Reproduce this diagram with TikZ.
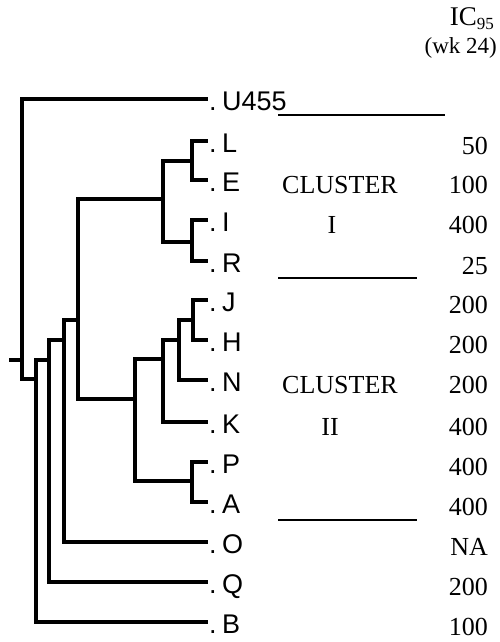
\documentclass[tikz,border=0pt]{standalone}
\usepackage{fontspec}
\setmainfont{Liberation Serif}
\newfontfamily\leaffont{Liberation Sans}
\begin{document}
\begin{tikzpicture}[x=1pt,y=-1pt,
  br/.style={line width=3.2pt, line join=miter},
  thk/.style={line width=4.3pt, line join=miter},
  rule/.style={line width=1.6pt},
  leaf/.style={inner sep=0pt, anchor=base west, font=\leaffont\fontsize{27}{30}\selectfont},
  val/.style={inner sep=0pt, anchor=base east, font=\fontsize{26}{30}\selectfont},
  lab/.style={inner sep=0pt, anchor=base, font=\fontsize{26}{30}\selectfont}]
\useasboundingbox (0,0) rectangle (499,642);

% leaf ends
\foreach \n/\y in {U455/99,L/141,E/180,I/220,R/261,J/300,H/340,N/380,K/422,P/462,A/502,O/542,Q/582,B/622}
  \coordinate (\n) at (208,\y);

% internal junctions
\coordinate (nLE)   at (192,161);
\coordinate (nIR)   at (192,242);
\coordinate (nC1)   at (163,199);
\coordinate (nJH)   at (193,320);
\coordinate (nJHN)  at (179,340);
\coordinate (nJHNK) at (163,359);
\coordinate (nPA)   at (192,481);
\coordinate (nC2)   at (135,399);
\coordinate (nC12)  at (78,320);
\coordinate (nO)    at (64,340);
\coordinate (nQ)    at (49,360);
\coordinate (nB)    at (36,379);
\coordinate (root)  at (22,360);
\coordinate (stub)  at (9,360);

% tree
\draw[br] (stub) -- (root);
\draw[br] (root) |- (U455);
\draw[br] (root) |- (nB);
\draw[br] (nB) |- (nQ);
\draw[br] (nB) |- (B);
\draw[br] (nQ) |- (nO);
\draw[br] (nQ) |- (Q);
\draw[br] (nO) |- (nC12);
\draw[br] (nO) |- (O);
\draw[br] (nC12) |- (nC1);
\draw[br] (nC12) |- (nC2);
\draw[br] (nC1) |- (nLE);
\draw[br] (nC1) |- (nIR);
\draw[thk] (nLE) |- (L);
\draw[thk] (nLE) |- (E);
\draw[thk] (nIR) |- (I);
\draw[thk] (nIR) |- (R);
\draw[br] (nC2) |- (nJHNK);
\draw[br] (nC2) |- (nPA);
\draw[br] (nJHNK) |- (nJHN);
\draw[br] (nJHNK) |- (K);
\draw[br] (nJHN) |- (nJH);
\draw[br] (nJHN) |- (N);
\draw[thk] (nJH) |- (J);
\draw[br] (nJH) |- (H);
\draw[thk] (nPA) |- (P);
\draw[br] (nPA) |- (A);

% leaf labels
\foreach \n in {U455,L,E,I,R,J,H,N,K,P,A,O,Q,B}
  \node[leaf] (t\n) at ([xshift=1pt,yshift=-11pt]\n) {.\hspace{5.5pt}\n};

% values
\foreach \n/\v in {L/50,E/100,I/400,R/25,J/200,H/200,N/200,K/400,P/400,A/400,O/NA,Q/200,B/100}
  \node[val] (v\n) at ([xshift=280pt,yshift=-13pt]\n) {\v};

% header
\node[inner sep=0pt, anchor=base east, font=\fontsize{27}{30}\selectfont] (hdr1) at (494,26)
  {IC\raisebox{-4pt}{\fontsize{17}{17}\selectfont 95}};
\node[inner sep=0pt, anchor=base east, font=\fontsize{23}{28}\selectfont] (hdr2) at (497,53) {(wk 24)};

% cluster labels
\node[lab, anchor=base west] (c1a) at (282,193) {CLUSTER};
\node[lab] (c1b) at (332,233) {I};
\node[lab, anchor=base west] (c2a) at (282,393) {CLUSTER};
\node[lab] (c2b) at (330,435) {II};

% rules
\coordinate (r1a) at (278,115); \coordinate (r1b) at (445,115);
\coordinate (r2a) at (278,278); \coordinate (r2b) at (417,278);
\coordinate (r3a) at (278,520); \coordinate (r3b) at (417,520);
\draw[rule] (r1a) -- (r1b);
\draw[rule] (r2a) -- (r2b);
\draw[rule] (r3a) -- (r3b);
\end{tikzpicture}
\end{document}
